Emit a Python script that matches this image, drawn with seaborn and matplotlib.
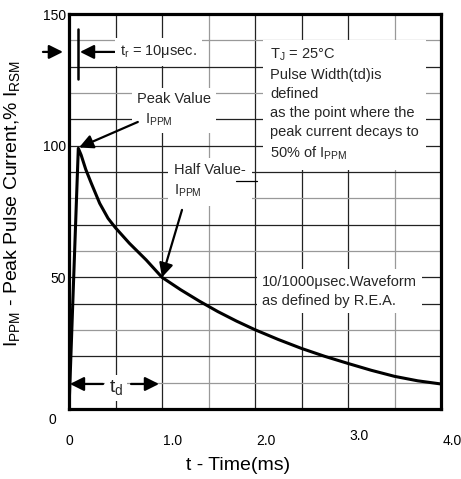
import matplotlib

matplotlib.use("Agg")
import matplotlib.pyplot as plt
import matplotlib.transforms as mtrans
import pandas as pd
import seaborn as sns

# Forma de onda do pulso 10/1000 µs
time_ms = [0.0, 0.1, 0.13, 0.18, 0.24, 0.33, 0.42, 0.5, 0.65, 0.83, 1.0,
           1.2, 1.4, 1.6, 1.8, 2.0, 2.25, 2.5, 2.75, 3.0, 3.25, 3.5, 3.75, 4.0]
current_pct = [0.0, 99.0, 96.5, 91.0, 85.7, 78.1, 72.4, 68.8, 62.9, 56.6, 50.0,
               45.3, 41.0, 37.0, 33.4, 30.1, 26.4, 23.0, 20.0, 17.3, 14.7,
               12.4, 10.7, 9.5]

x_ticks = [0, 1, 2, 3, 4]
x_tick_labels = ["0", "1.0", "2.0", "3.0", "4.0"]
y_ticks = [0, 50, 100, 150]
y_tick_labels = ["0", "50", "100", "150"]

# Linhas de grade (escuras e claras)
grid_x_dark = [0.5, 1.0, 2.0, 2.5, 3.0]
grid_x_light = [1.5, 3.5]
grid_y_dark = [20, 40, 50, 70, 90, 100, 110, 130]
grid_y_light = [10, 30, 60, 80, 120, 140]

sns.set_theme(style="white")
plt.rcParams["font.family"] = ["Liberation Sans", "DejaVu Sans"]
plt.rcParams["mathtext.fontset"] = "custom"
plt.rcParams["mathtext.rm"] = "Liberation Sans"
plt.rcParams["mathtext.it"] = "Liberation Sans:italic"

fig = plt.figure(figsize=(4.61, 4.79), dpi=100)
ax = fig.add_axes([69 / 461, 1 - 409 / 479, 372 / 461, 395 / 479])

for gx in grid_x_dark:
    ax.axvline(gx, color="#222222", lw=0.9, zorder=1)
for gx in grid_x_light:
    ax.axvline(gx, color="#999999", lw=0.9, zorder=1)
for gy in grid_y_dark:
    ax.axhline(gy, color="#222222", lw=0.9, zorder=1)
for gy in grid_y_light:
    ax.axhline(gy, color="#999999", lw=0.9, zorder=1)

df = pd.DataFrame({"t": time_ms, "i": current_pct})
sns.lineplot(data=df, x="t", y="i", color="black", lw=2.2, ax=ax, zorder=4)

ax.set_xlim(0, 4)
ax.set_ylim(0, 150)
ax.set_xticks(x_ticks)
ax.set_xticklabels(x_tick_labels)
ax.set_yticks(y_ticks)
ax.set_yticklabels(y_tick_labels)
ax.tick_params(axis="x", length=0, pad=18, labelsize=10, colors="black")
ax.tick_params(axis="y", length=0, pad=2, labelsize=10, colors="black")

for sp in ax.spines.values():
    sp.set_visible(True)
    sp.set_color("black")
    sp.set_linewidth(2.3)

# Deslocamentos dos rótulos como no original
for k, lab in enumerate(ax.get_xticklabels()):
    if k == 0:
        continue
    dy = 5 if k == 3 else 0
    lab.set_transform(lab.get_transform() + mtrans.ScaledTranslation(
        11 / 100, dy / 100, fig.dpi_scale_trans))
lab0 = ax.get_yticklabels()[0]
lab0.set_transform(lab0.get_transform() + mtrans.ScaledTranslation(
    -10 / 100, -10 / 100, fig.dpi_scale_trans))

ax.set_xlabel("t - Time(ms)", fontsize=14, color="black")
ax.xaxis.set_label_coords(0.455, -0.122)
ax.set_ylabel(r"I$_\mathregular{PPM}$ - Peak Pulse Current,% I$_\mathregular{RSM}$",
              fontsize=14, color="black")
ax.yaxis.set_label_coords(-0.125, 0.52)

white = dict(boxstyle="square,pad=0.35", fc="white", ec="none")
arrow = dict(arrowstyle="-|>,head_width=0.35,head_length=0.7", color="black",
             lw=1.6, shrinkA=0, shrinkB=0)

# t_r
ax.annotate("", xy=(-0.065, 135.6), xytext=(-0.28, 135.6),
            arrowprops=arrow, annotation_clip=False)
ax.plot([0.097, 0.097], [125.3, 144.3], color="black", lw=1.8, zorder=5)
ax.annotate("", xy=(0.118, 135.6), xytext=(0.49, 135.6), arrowprops=arrow)
ax.text(0.55, 135.6, r"t$_\mathregular{r}$ = 10μsec.", fontsize=10.5,
        va="center", ha="left", bbox=white, zorder=3)

# Peak value
ax.text(0.73, 113.5, "Peak Value\n" + r"  I$_\mathregular{PPM}$", fontsize=10.5,
        va="center", ha="left", linespacing=1.5, bbox=white, zorder=3)
ax.annotate("", xy=(0.108, 99.3), xytext=(0.74, 109.0), arrowprops=arrow, zorder=6)

# Half value (com o traço de fração)
ax.text(1.13, 86.5, "Half Value-\n" + r"I$_\mathregular{PPM}$", fontsize=10.5,
        va="center", ha="left", linespacing=1.5,
        bbox=dict(boxstyle="square,pad=0.45", fc="white", ec="none"), zorder=3)
ax.plot([1.8, 2.02], [86.6, 86.6], color="black", lw=0.9, zorder=5)
ax.annotate("", xy=(1.0, 50.0), xytext=(1.215, 75.6), arrowprops=arrow, zorder=6)

# Bloco de texto superior direito
ax.text(2.16, 115.6,
        r"T$_\mathregular{J}$ = 25°C" + "\nPulse Width(td)is\ndefined\n"
        "as the point where the\npeak current decays to\n"
        r"50% of I$_\mathregular{PPM}$",
        fontsize=10.5, va="center", ha="left", linespacing=1.45,
        bbox=dict(boxstyle="square,pad=0.5", fc="white", ec="none"), zorder=3)

# Forma de onda
ax.text(2.075, 44.8, "10/1000μsec.Waveform\nas defined by R.E.A.",
        fontsize=10.5, va="center", ha="left", linespacing=1.45,
        bbox=white, zorder=3)

# t_d
ax.annotate("", xy=(0.01, 9.5), xytext=(0.366, 9.5), arrowprops=arrow, zorder=6)
ax.annotate("", xy=(0.968, 9.5), xytext=(0.667, 9.5), arrowprops=arrow, zorder=6)
ax.text(0.43, 8.0, r"t$_\mathregular{d}$", fontsize=14, va="center", ha="left",
        bbox=dict(boxstyle="square,pad=0.2", fc="white", ec="none"), zorder=3)

fig.savefig("out.png", dpi=100)
plt.close(fig)
